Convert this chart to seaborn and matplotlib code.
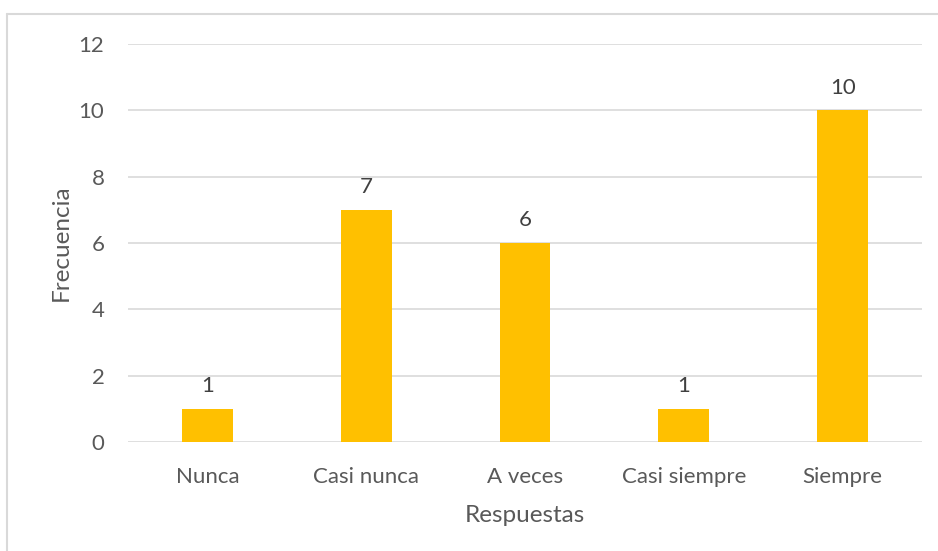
import matplotlib
matplotlib.use("Agg")
import matplotlib.pyplot as plt
from matplotlib.lines import Line2D
import seaborn as sns
import pandas as pd

categorias = ["Nunca", "Casi nunca", "A veces", "Casi siempre", "Siempre"]
frecuencias = [1, 7, 6, 1, 10]
y_ticks = [0, 2, 4, 6, 8, 10, 12]

sns.set_theme(style="white")
plt.rcParams["font.family"] = ["Lato", "DejaVu Sans"]

df = pd.DataFrame({"Respuestas": categorias, "Frecuencia": frecuencias})

fig = plt.figure(figsize=(9.38, 5.51), dpi=100)
ax = fig.add_axes([0.1365, 0.198, 0.8465, 0.722])

sns.barplot(data=df, x="Respuestas", y="Frecuencia", color="#FFC000",
            saturation=1, width=0.32, linewidth=0, ax=ax, zorder=3)

ax.set_ylim(0, 12)
ax.set_yticks(y_ticks)
ax.grid(axis="y", color="#D9D9D9", linewidth=1.2, zorder=0)
ax.set_axisbelow(True)
for s in ax.spines.values():
    s.set_visible(False)
ax.tick_params(axis="both", length=0, labelsize=16, labelcolor="#595959")
ax.tick_params(axis="x", pad=18)
ax.tick_params(axis="y", pad=17)

for p, v in zip(ax.patches, frecuencias):
    ax.annotate(f"{v}", (p.get_x() + p.get_width() / 2, v), xytext=(0, 9),
                textcoords="offset points", ha="center", va="bottom",
                fontsize=16, color="#404040")

ax.set_xlabel("Respuestas", fontsize=17.5, color="#595959", labelpad=13)
ax.set_ylabel("Frecuencia", fontsize=17.5, color="#595959", labelpad=5)

# thin frame around the chart area
fig.add_artist(Line2D([6.5 / 938, 6.5 / 938], [0, 1 - 14 / 551],
                      transform=fig.transFigure, color="#D9D9D9", linewidth=1.5))
fig.add_artist(Line2D([6.5 / 938, 1], [1 - 14 / 551, 1 - 14 / 551],
                      transform=fig.transFigure, color="#D9D9D9", linewidth=1.5))

fig.savefig("out.png", dpi=100)
